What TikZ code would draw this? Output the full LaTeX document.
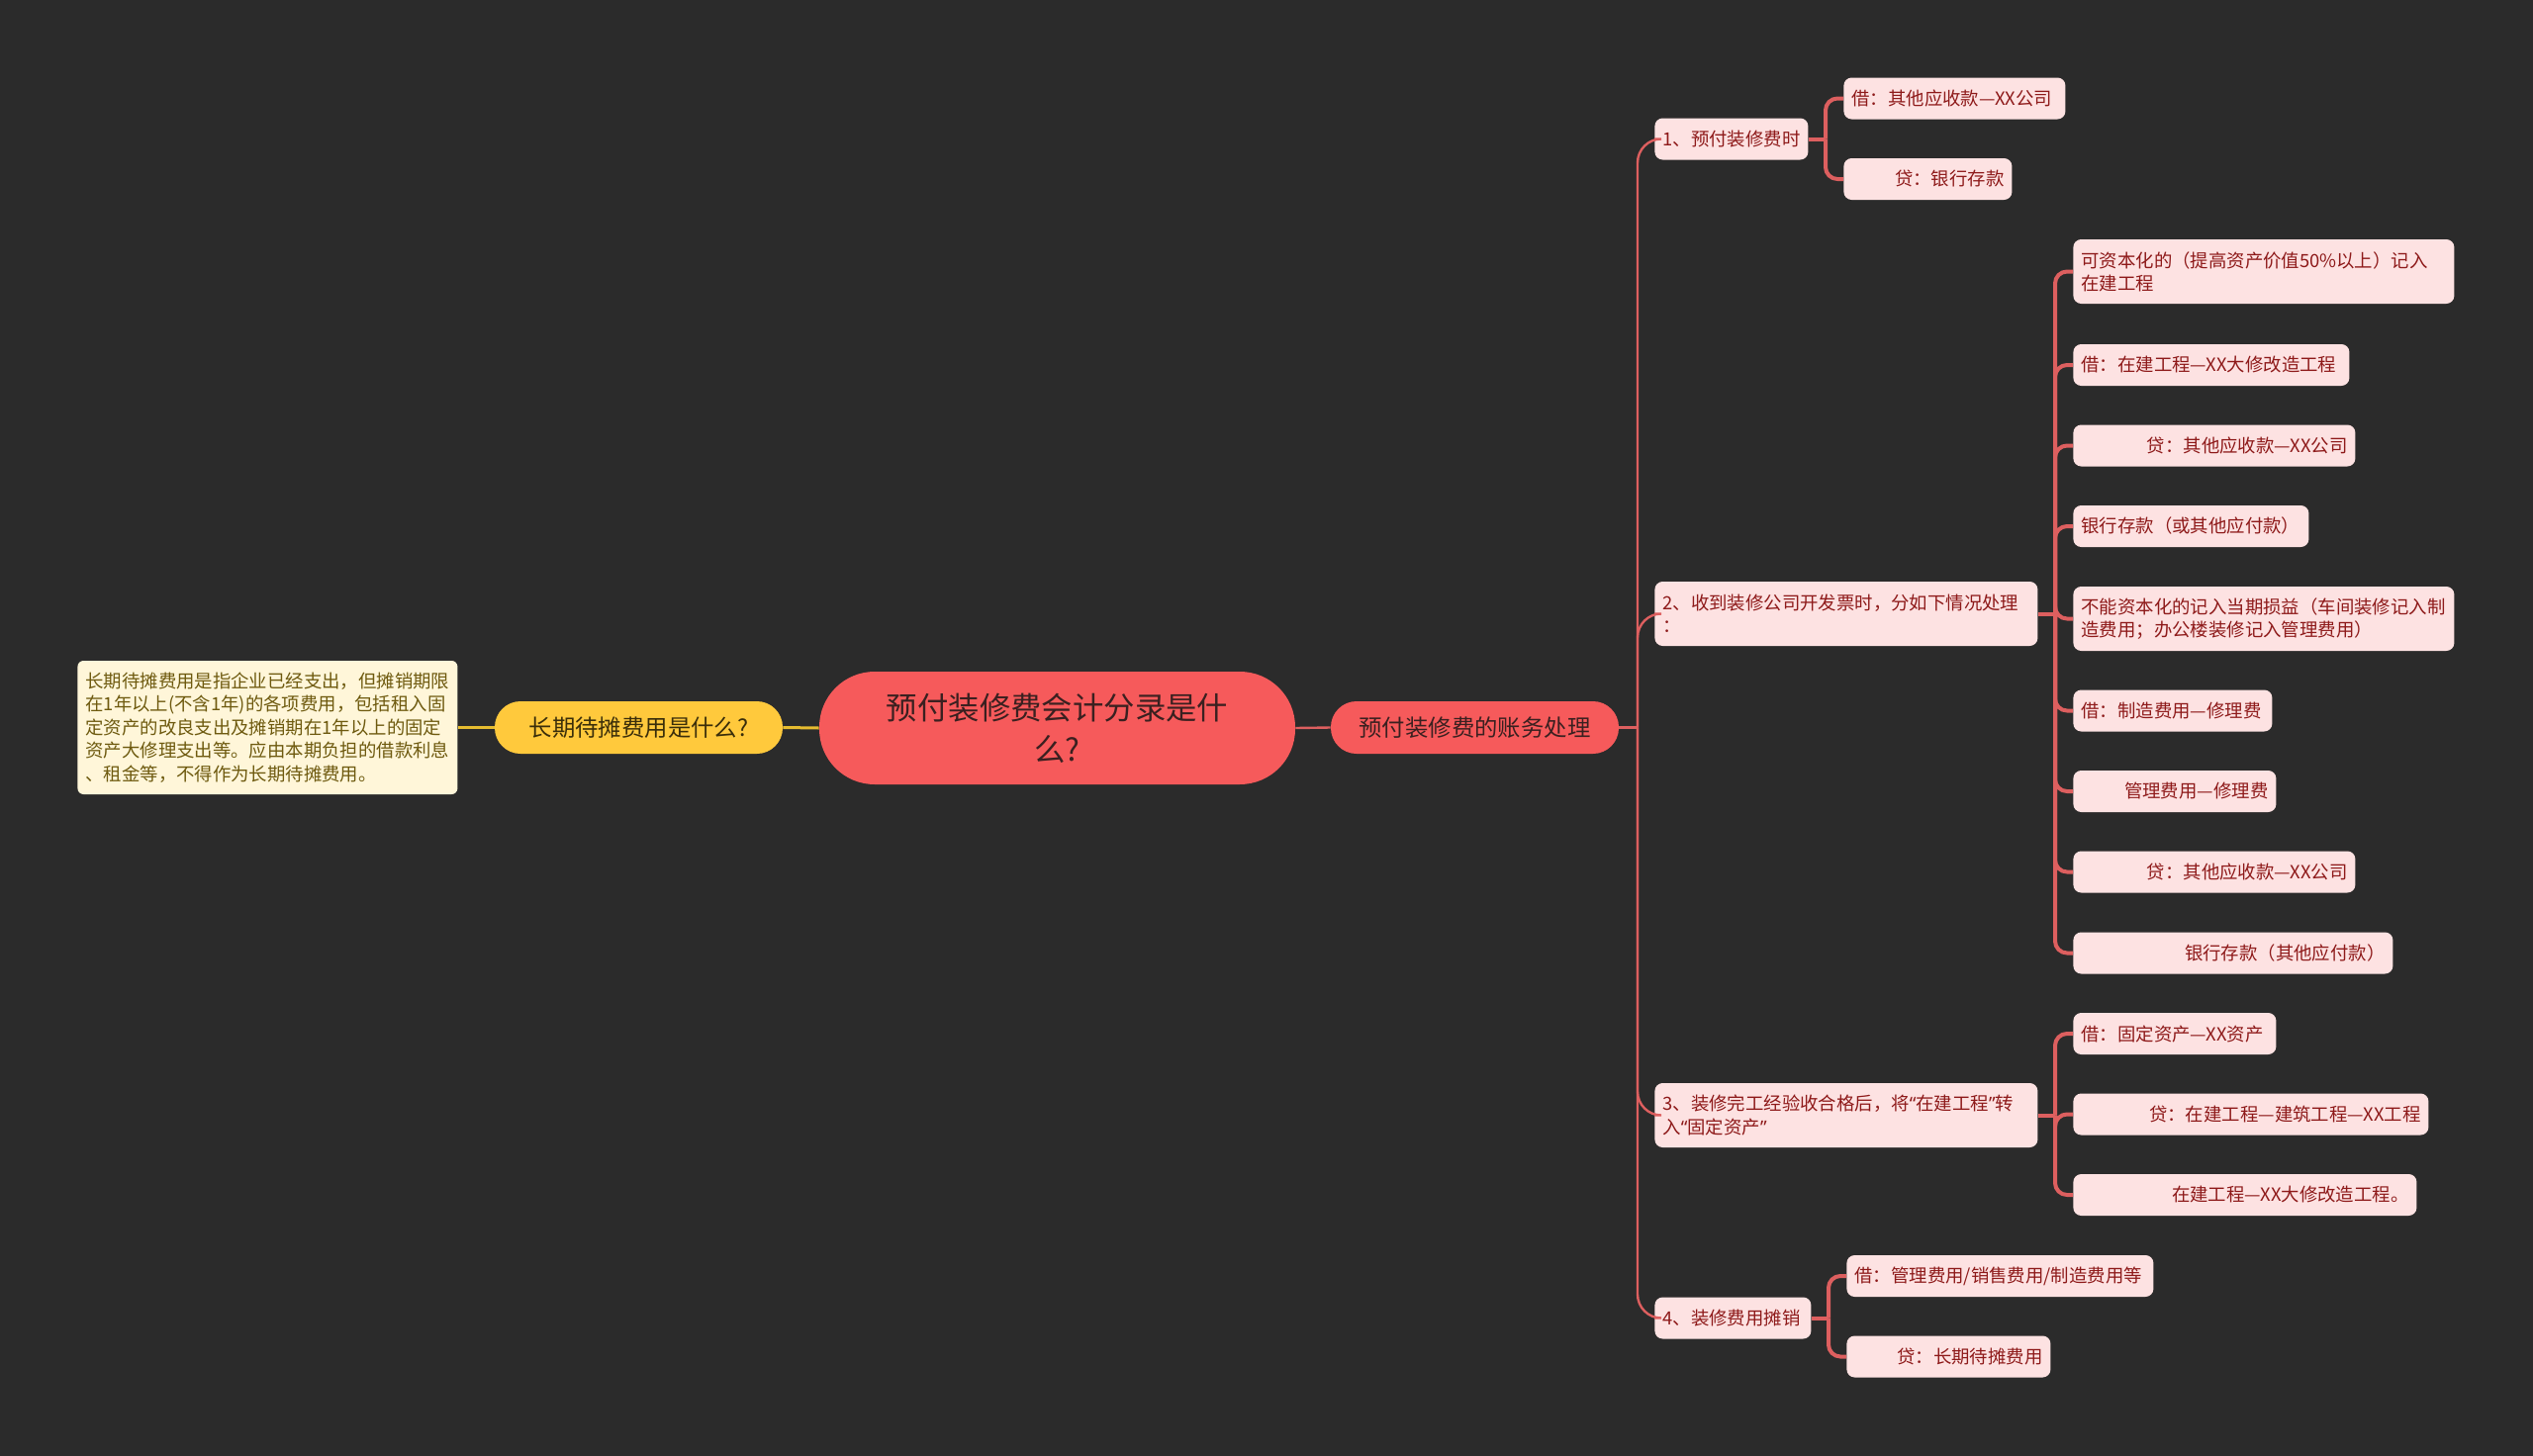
\documentclass[tikz,border=0pt]{standalone}
\usepackage{fontspec}
\setmainfont{Noto Sans CJK SC}
\newfontfamily\quotefont{Noto Sans}
\usepackage{tikz}
\usetikzlibrary{positioning}
\definecolor{bg}{HTML}{2B2B2B}
\definecolor{coral}{HTML}{F65A5B}
\definecolor{rootink}{HTML}{3A2020}
\definecolor{pale}{HTML}{FDE2E2}
\definecolor{wine}{HTML}{8E1A1A}
\definecolor{edge}{HTML}{DD5F5F}
\definecolor{gold}{HTML}{FFC93C}
\definecolor{goldink}{HTML}{3A2E0A}
\definecolor{cream}{HTML}{FFF6D9}
\definecolor{olive}{HTML}{6E5A0F}
\definecolor{goldline}{HTML}{E6BC30}
\newcommand{\openq}{{\quotefont “}}
\newcommand{\closeq}{{\quotefont ”}}

\begin{document}
\begin{tikzpicture}[
  x=0.5pt,y=-0.5pt,
  every node/.style={font=\fontsize{9.2}{11.6}\selectfont},
  root/.style={fill=coral,text=rootink,rounded corners=28pt,minimum width=240.5pt,minimum height=57pt,
    inner sep=0pt,align=center,font=\fontsize{15.7}{21}\selectfont},
  topic/.style={fill=coral,text=rootink,rounded corners=13pt,minimum width=145.5pt,minimum height=26.5pt,
    inner sep=0pt,font=\fontsize{11.7}{14}\selectfont},
  yellowtopic/.style={topic,fill=gold,text=goldink},
  note/.style={fill=cream,text=olive,rounded corners=3pt,inner xsep=4pt,minimum height=67.5pt,
    align=left,anchor=west,font=\fontsize{9.2}{11.8}\selectfont},
  leaf/.style={fill=pale,text=wine,rounded corners=4pt,inner xsep=4pt,inner ysep=0pt,minimum height=21pt,anchor=west},
  tall/.style={minimum height=32.5pt},
  branch/.style={edge,line width=1.2pt},
  fork/.style={edge,line width=2pt},
  goldedge/.style={goldline,line width=1.5pt}
]
\useasboundingbox[fill=bg] (0,0) rectangle (2560,1472);

% centre and the left side
\node[root] (R) at (1068.5,736) {预付装修费会计分录是什\\么?};
\node[yellowtopic] (Q) at (645.5,735.5) {长期待摊费用是什么?};
\node[note] (D) at (78,735.5) {长期待摊费用是指企业已经支出，但摊销期限\\
在1年以上(不含1年)的各项费用，包括租入固\\
定资产的改良支出及摊销期在1年以上的固定\\
资产大修理支出等。应由本期负担的借款利息\\
、租金等，不得作为长期待摊费用。};
\draw[goldedge] (R.west) -- (Q.east);
\draw[goldedge] (Q.west) -- (D.east);

% right side
\node[topic] (T) at (1490.5,735.5) {预付装修费的账务处理};
\draw[branch] (R.east) -- (T.west);

\node[leaf,text width=69.5pt,align=left] (s1) at (1672,140.5) {1、预付装修费时};
\node[leaf,tall,text width=185.5pt,align=left] (s2) at (1672,620.5) {2、收到装修公司开发票时，分如下情况处理\\：};
\node[leaf,tall,text width=185.5pt,align=left] (s3) at (1672,1127.5) {3、装修完工经验收合格后，将\openq 在建工程\closeq 转\\入\openq 固定资产\closeq};
\node[leaf,text width=71pt,align=left] (s4) at (1672,1332.5) {4、装修费用摊销};

\node[leaf,text width=104pt,align=left] (s1a) at (1863,99.5) {借：其他应收款—XX公司};
\node[leaf,text width=77pt,align=right] (s1b) at (1863,181) {贷：银行存款};

\node[leaf,tall,text width=184.5pt,align=left] (s2a) at (2095,274.5) {可资本化的（提高资产价值50\%以上）记入\\在建工程};
\node[leaf,text width=131.5pt,align=left] (s2b) at (2095,369) {借：在建工程—XX大修改造工程};
\node[leaf,text width=134.5pt,align=right] (s2c) at (2095,450.5) {贷：其他应收款—XX公司};
\node[leaf,text width=111pt,align=left] (s2d) at (2095,532) {银行存款（或其他应付款）};
\node[leaf,tall,text width=184.5pt,align=left] (s2e) at (2095,625.5) {不能资本化的记入当期损益（车间装修记入制\\造费用；办公楼装修记入管理费用）};
\node[leaf,text width=92.5pt,align=left] (s2f) at (2095,718.5) {借：制造费用—修理费};
\node[leaf,text width=94.5pt,align=right] (s2g) at (2095,800) {管理费用—修理费};
\node[leaf,text width=134.5pt,align=right] (s2h) at (2095,881.5) {贷：其他应收款—XX公司};
\node[leaf,text width=153.5pt,align=right] (s2i) at (2095,963.5) {银行存款（其他应付款）};

\node[leaf,text width=94.5pt,align=left] (s3a) at (2095,1045) {借：固定资产—XX资产};
\node[leaf,text width=171.5pt,align=right] (s3b) at (2095,1126.5) {贷：在建工程—建筑工程—XX工程};
\node[leaf,text width=165.5pt,align=right] (s3c) at (2095,1208) {在建工程—XX大修改造工程。};

\node[leaf,text width=147pt,align=left] (s4a) at (1866,1290) {借：管理费用/销售费用/制造费用等};
\node[leaf,text width=95pt,align=right] (s4b) at (1866,1371.5) {贷：长期待摊费用};

% connectors
\coordinate (jT) at (1655,735.5);
\draw[branch] (T.east) -- (jT);
\foreach \c in {s1,s2,s3,s4}
  \draw[branch,rounded corners=12pt] (jT) |- (\c.west);

\coordinate (j1) at (1845,140.5);
\draw[fork] (s1.east) -- (j1);
\foreach \c in {s1a,s1b}
  \draw[fork,rounded corners=6pt] (j1) |- (\c.west);

\coordinate (j2) at (2077,620.5);
\draw[fork] (s2.east) -- (j2);
\foreach \c in {s2a,s2b,s2c,s2d,s2e,s2f,s2g,s2h,s2i}
  \draw[fork,rounded corners=6pt] (j2) |- (\c.west);

\coordinate (j3) at (2077,1127.5);
\draw[fork] (s3.east) -- (j3);
\foreach \c in {s3a,s3b,s3c}
  \draw[fork,rounded corners=6pt] (j3) |- (\c.west);

\coordinate (j4) at (1848,1332.5);
\draw[fork] (s4.east) -- (j4);
\foreach \c in {s4a,s4b}
  \draw[fork,rounded corners=6pt] (j4) |- (\c.west);
\end{tikzpicture}
\end{document}
